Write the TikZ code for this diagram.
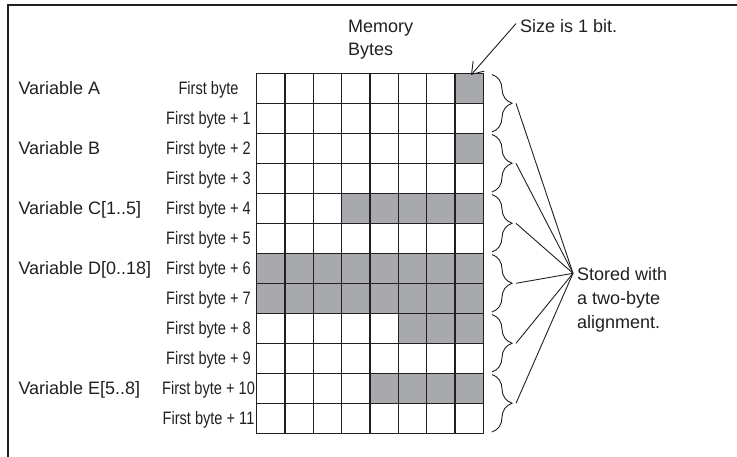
\documentclass[tikz,border=0pt]{standalone}
\usepackage{fontspec}
\setmainfont{Liberation Sans}
\newfontfamily\narrowfont[FakeStretch=0.81]{Liberation Sans}
\usepackage{tikz}
\usetikzlibrary{arrows.meta,decorations.pathreplacing,positioning,calc}
\definecolor{bitgray}{RGB}{167,169,172}
\definecolor{inkcolor}{RGB}{35,31,32}

\begin{document}
\begin{tikzpicture}[x=1pt,y=-1pt,txt/.style={inner sep=0pt,font=\fontsize{18}{23.8}\selectfont,text=inkcolor},varlbl/.style={txt,anchor=base west},bytelbl/.style={txt,anchor=base,font=\narrowfont\fontsize{18}{23.8}\selectfont},gridline/.style={draw=inkcolor,line width=1.3pt,line cap=rect},brc/.style={draw=inkcolor,line width=0.9pt,decorate,decoration={brace,amplitude=20pt}},lnk/.style={draw=inkcolor,line width=0.9pt},arr/.style={lnk,-{Straight Barb[length=11pt,width=15pt]}}]
\useasboundingbox (0,0) rectangle (737,457);
\draw[inkcolor,line width=2pt] (7.7,457) -- (7.7,5) -- (737,5);
% bit cells that are in use
\foreach \r/\a/\b in {0/7/7,2/7/7,4/3/7,6/0/7,7/0/7,8/5/7,10/4/7} \fill[bitgray] (256.5+\a*28.35,73.3+\r*30) rectangle (256.5+\b*28.35+28.35,73.3+\r*30+30);
\foreach \c in {0,...,8} \draw[gridline] (256.5+\c*28.35,73.3) -- ++(0,360);
\foreach \r in {0,...,12} \draw[gridline] (256.5,73.3+\r*30) -- ++(226.8,0);
% labels
\node[varlbl](memory) at (348,33){Memory}; \node[varlbl](bytes) at (348,55.5){Bytes};
\foreach \v/\r in {A/0,B/2,C[1..5]/4,D[0..18]/6,E[5..8]/10} \node[varlbl](var\r) at (18.3,94.8+\r*30){Variable \v};
\foreach \r in {0,...,11} \node[bytelbl](byte\r) at (208.5,94.8+\r*30){First byte\ifnum\r>0{} + \r\fi};
\node[varlbl](size) at (520,33){Size is 1 bit.}; \coordinate (bit) at (471,75);
\draw[arr] ([xshift=-4pt,yshift=3pt]size.west) -- (bit);
% two-byte braces
\node[txt,anchor=north west,align=left](stored) at (577,267.5){Stored with\\a two-byte\\alignment.};
\coordinate (hub) at (573,273.3);
\foreach \k in {0,...,5} {\draw[brc] (492,74.5+\k*60) -- (492,132+\k*60); \coordinate (tip\k) at (516,103.3+\k*60); \draw[lnk] (tip\k) -- (hub);}
\end{tikzpicture}
\end{document}
